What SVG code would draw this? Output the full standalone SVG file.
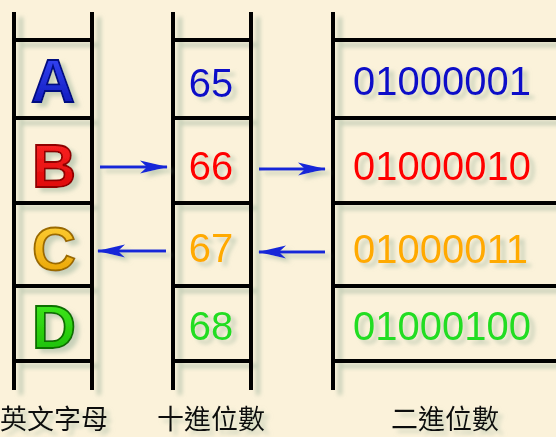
<svg xmlns="http://www.w3.org/2000/svg" width="556" height="437" viewBox="0 0 556 437">
<defs>
<filter id="sh" x="-20%" y="-20%" width="150%" height="150%">
<feDropShadow dx="7" dy="5" stdDeviation="2.2" flood-color="#9fb59f" flood-opacity="0.6"/>
</filter>
<filter id="tsh" x="-20%" y="-20%" width="150%" height="150%">
<feDropShadow dx="5" dy="4" stdDeviation="2" flood-color="#9fb59f" flood-opacity="0.55"/>
</filter>
<linearGradient id="gA" x1="0" y1="0" x2="0" y2="1"><stop offset="0" stop-color="#3a4cff"/><stop offset="1" stop-color="#0a12b0"/></linearGradient>
<linearGradient id="gB" x1="0" y1="0" x2="0" y2="1"><stop offset="0" stop-color="#ff2a2a"/><stop offset="1" stop-color="#d80000"/></linearGradient>
<linearGradient id="gC" x1="0" y1="0" x2="0" y2="1"><stop offset="0" stop-color="#ffd23a"/><stop offset="1" stop-color="#e8a000"/></linearGradient>
<linearGradient id="gD" x1="0" y1="0" x2="0" y2="1"><stop offset="0" stop-color="#44ee22"/><stop offset="1" stop-color="#18b800"/></linearGradient>
<marker id="ah" viewBox="0 0 28 14" refX="27" refY="7" markerWidth="28" markerHeight="14" markerUnits="userSpaceOnUse" orient="auto">
<path d="M0,0.5 L28,7 L0,13.5 L7,7 Z" fill="#1428d8"/>
</marker>
</defs>
<style>
.ln{stroke:#000;stroke-width:4;fill:none;stroke-linecap:butt}
.let{font-family:"Liberation Sans",Arial,sans-serif;font-weight:bold;font-size:61px;text-anchor:middle;stroke-width:1.8}
.num{font-family:"Liberation Sans",Arial,sans-serif;font-size:40px;text-anchor:middle}
.bin{font-family:"Liberation Sans",Arial,sans-serif;font-size:40px;text-anchor:start}
.lab{font-family:"Noto Sans CJK TC","Noto Sans CJK SC",sans-serif;font-size:27px;fill:#111}
.arr{stroke:#1428d8;stroke-width:2.8;fill:none}
</style>
<rect width="556" height="437" fill="#fbf2da"/>
<g id="ladders" filter="url(#sh)">
<g id="ladder-letters">
<path class="ln" d="M14,12V390M92,12V390M14,40H92M14,118H92M14,203H92M14,286H92M14,361H92"/>
</g>
<g id="ladder-decimal">
<path class="ln" d="M173,12V390M251,12V390M173,40H251M173,118H251M173,203H251M173,286H251M173,361H251"/>
</g>
<g id="ladder-binary">
<path class="ln" d="M333,12V390M333,40H556M333,118H556M333,203H556M333,286H556M333,361H556"/>
</g>
</g>
<g id="texts" filter="url(#tsh)">
<g id="cell-A"><text class="let" x="53" y="102" fill="url(#gA)" stroke="#000880">A</text></g>
<g id="cell-B"><text class="let" x="54" y="187" fill="url(#gB)" stroke="#900000">B</text></g>
<g id="cell-C"><text class="let" x="54" y="270" fill="url(#gC)" stroke="#9a6a00">C</text></g>
<g id="cell-D"><text class="let" x="54" y="348" fill="url(#gD)" stroke="#107000">D</text></g>
<g id="cell-65"><text class="num" x="211" y="97" fill="#1010c8">65</text></g>
<g id="cell-66"><text class="num" x="211" y="180" fill="#ff0000">66</text></g>
<g id="cell-67"><text class="num" x="211" y="262" fill="#ffaa00">67</text></g>
<g id="cell-68"><text class="num" x="211" y="340" fill="#22dd22">68</text></g>
<g id="cell-01000001"><text class="bin" x="353" y="95" fill="#1010c8">01000001</text></g>
<g id="cell-01000010"><text class="bin" x="353" y="180" fill="#ff0000">01000010</text></g>
<g id="cell-01000011"><text class="bin" x="353" y="263" fill="#ffaa00">01000011</text></g>
<g id="cell-01000100"><text class="bin" x="353" y="340" fill="#22dd22">01000100</text></g>
<g id="label-letters"><text class="lab" x="0" y="429">英文字母</text></g>
<g id="label-decimal"><text class="lab" x="157" y="429">十進位數</text></g>
<g id="label-binary"><text class="lab" x="391" y="429">二進位數</text></g>
</g>
<g id="connectors" filter="url(#tsh)">
<line class="arr" x1="100" y1="167" x2="167" y2="167" marker-end="url(#ah)"/>
<line class="arr" x1="259" y1="169" x2="325" y2="169" marker-end="url(#ah)"/>
<line class="arr" x1="325" y1="252" x2="259" y2="252" marker-end="url(#ah)"/>
<line class="arr" x1="166" y1="251" x2="98" y2="251" marker-end="url(#ah)"/>
</g>
</svg>
